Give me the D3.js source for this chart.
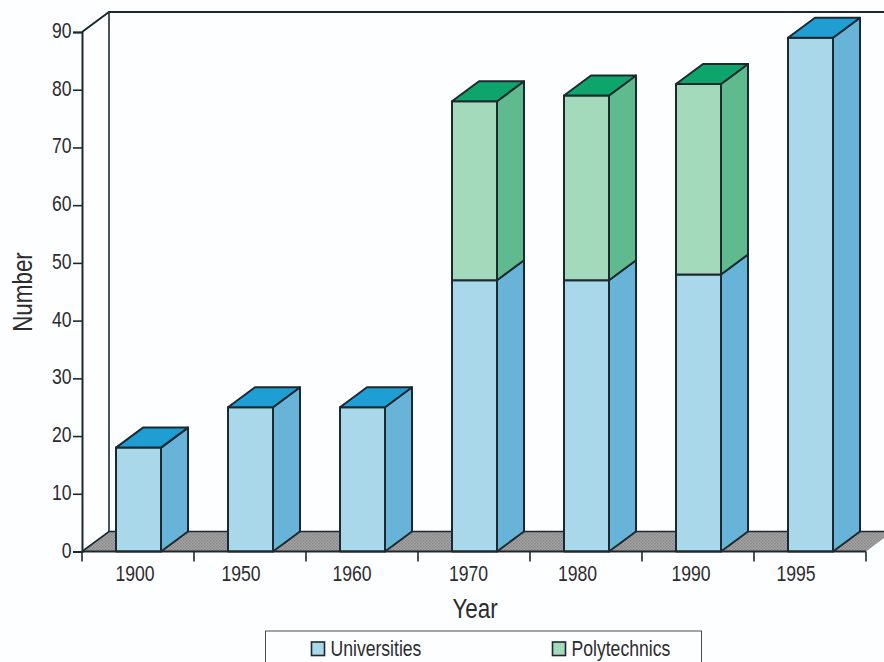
<!DOCTYPE html>
<html>
<head>
<meta charset="utf-8">
<script src="https://cdn.jsdelivr.net/npm/d3@7"></script>
<style>
html,body{margin:0;padding:0;background:#fdfeff;overflow:hidden}
text{font-family:"Liberation Sans",Arial,sans-serif;fill:#2c2c2e}
</style>
</head>
<body>
<svg id="chart" width="884" height="662"></svg>
<script>
const years = ["1900","1950","1960","1970","1980","1990","1995"];
const universities = [18,25,25,47,47,48,89];
const polytechnics = [0,0,0,31,32,33,0];
const yTicks = [0,10,20,30,40,50,60,70,80,90];
const seriesNames = ["Universities","Polytechnics"];

// Year labels sit slightly left of the band centres, each by its own amount
const yearLabelShift = [-3,-9,-10,-5.5,-8.5,-7,-14];

// Fill colours per series: front, side and top faces of each block
const faces = {
  Universities:{front:"#a8d8ea",side:"#68b4d8",top:"#1f9ed4"},
  Polytechnics:{front:"#a2dabb",side:"#5fba8e",top:"#0ea56c"}
};
const ink = "#1c2a30";
const depthX = 27, depthY = -20;
const narrow = 0.8;   // horizontal squeeze giving the condensed letterforms

const svg = d3.select("#chart");
const x = d3.scaleBand().domain(years).range([82,866]);
const y = d3.scaleLinear().domain([0,90]).range([551.5,32]);
const barW = 45, barInset = 34;

// Grey halftone for the floor
const dots = svg.append("defs").append("pattern").attr("id","floorDots")
  .attr("width",3).attr("height",3).attr("patternUnits","userSpaceOnUse");
dots.append("rect").attr("width",3).attr("height",3).attr("fill","#a6a6a6");
dots.append("rect").attr("width",1.5).attr("height",1.5).attr("fill","#858585");
dots.append("rect").attr("x",1.5).attr("y",1.5).attr("width",1.5).attr("height",1.5).attr("fill","#8c8c8c");

// Condensed text anchored at a point
function label(parent,tx,ty,str,size,anchor,rotate){
  return parent.append("text")
    .attr("transform",`translate(${tx},${ty})${rotate?" rotate(-90)":""} scale(${narrow},1)`)
    .attr("text-anchor",anchor).style("font-size",size+"px").text(str);
}

// Back wall
svg.append("path")
  .attr("d",`M${x.range()[0]},${y(90)}L${x.range()[0]+depthX},${y(90)+depthY}L884,${y(90)+depthY}`)
  .attr("fill","none").attr("stroke",ink).attr("stroke-width",2);
svg.append("line")
  .attr("x1",x.range()[0]+depthX).attr("x2",x.range()[0]+depthX)
  .attr("y1",y(90)+depthY).attr("y2",y(0)+depthY)
  .attr("stroke",ink).attr("stroke-width",1.6);

// Floor: filled without an outline, then its back and left edges
const floorRight = x.range()[1];
svg.append("path")
  .attr("d",`M${x.range()[0]},${y(0)}L${x.range()[0]+depthX},${y(0)+depthY}L886,${y(0)+depthY}L886,${y(0)-15}L${floorRight},${y(0)}Z`)
  .attr("fill","url(#floorDots)");
svg.append("path")
  .attr("d",`M${x.range()[0]},${y(0)}L${x.range()[0]+depthX},${y(0)+depthY}L886,${y(0)+depthY}`)
  .attr("fill","none").attr("stroke",ink).attr("stroke-width",1.6);

// Stacked 3-D columns
function block(g,x0,v0,v1,c,drawTop){
  const x1=x0+barW, yb=y(v0), yt=y(v1);
  const style=s=>s.attr("stroke",ink).attr("stroke-width",2).attr("stroke-linejoin","round");
  style(g.append("path")
    .attr("d",`M${x1},${yb}L${x1+depthX},${yb+depthY}L${x1+depthX},${yt+depthY}L${x1},${yt}Z`)
    .attr("fill",c.side));
  style(g.append("rect").attr("x",x0).attr("y",yt).attr("width",barW).attr("height",yb-yt).attr("fill",c.front));
  if(drawTop){
    style(g.append("path")
      .attr("d",`M${x0},${yt}L${x0+depthX},${yt+depthY}L${x1+depthX},${yt+depthY}L${x1},${yt}Z`)
      .attr("fill",c.top));
  }
}
years.forEach((yr,i)=>{
  const g=svg.append("g").attr("class","column");
  const x0=x(yr)+barInset, u=universities[i], p=polytechnics[i];
  block(g,x0,0,u,faces.Universities,p===0);
  if(p>0) block(g,x0,u,u+p,faces.Polytechnics,true);
});

// Value axis: the library draws the rule and ticks, labels are squeezed afterwards
const yAxis = d3.axisLeft(y).tickValues(yTicks).tickSize(9).tickFormat("");
const gy = svg.append("g").attr("transform",`translate(${x.range()[0]},0)`).call(yAxis);
gy.select(".domain").attr("stroke",ink).attr("stroke-width",2);
gy.selectAll(".tick line").attr("stroke",ink).attr("stroke-width",1.6);
yTicks.forEach(t=>label(svg,71.5,y(t)+6,String(t),22,"end"));

// Year axis
const xBase = svg.append("g").attr("transform",`translate(0,${y(0)})`);
xBase.append("line").attr("x1",x.range()[0]).attr("x2",x.range()[1])
  .attr("stroke",ink).attr("stroke-width",2);
xBase.selectAll("line.tk").data([years[0],...years]).join("line").attr("class","tk")
  .attr("x1",(d,i)=>i===0?x(d):x(d)+x.bandwidth()).attr("x2",(d,i)=>i===0?x(d):x(d)+x.bandwidth())
  .attr("y1",0).attr("y2",10).attr("stroke",ink).attr("stroke-width",1.6);
years.forEach((yr,i)=>label(xBase,x(yr)+x.bandwidth()/2+yearLabelShift[i],29.5,yr,22,"middle"));

// Axis titles
label(svg,475,618,"Year",28,"middle");
label(svg,32,292,"Number",28,"middle",true);

// Legend, cut by the bottom edge of the page
svg.append("rect").attr("x",265.5).attr("y",631).attr("width",436).attr("height",50)
  .attr("fill","none").attr("stroke","#4a4a4a").attr("stroke-width",1);
const legendX = d3.scaleOrdinal().domain(seriesNames).range([311.5,552.5]);
seriesNames.forEach(n=>{
  svg.append("rect").attr("x",legendX(n)).attr("y",642).attr("width",13).attr("height",13.5)
    .attr("fill",faces[n].front).attr("stroke",ink).attr("stroke-width",1.6);
  label(svg,legendX(n)+19,655.5,n,22,"start");
});
</script>
</body>
</html>
